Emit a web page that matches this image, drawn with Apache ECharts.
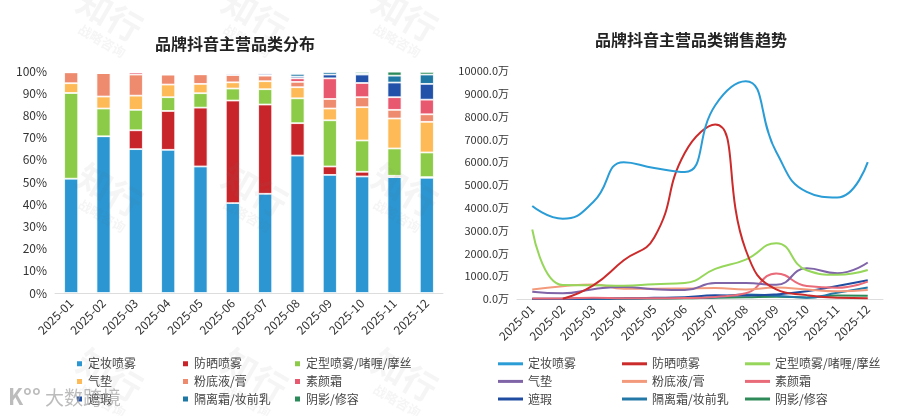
<!DOCTYPE html>
<html><head><meta charset="utf-8">
<script src="https://cdn.jsdelivr.net/npm/echarts@6/dist/echarts.min.js"></script>
<style>html,body{margin:0;padding:0;background:#fff;}#wrap{position:relative;width:900px;height:416px;}#c1{position:absolute;left:0;top:0;width:450px;height:416px;}#c2{position:absolute;left:450px;top:0;width:450px;height:416px;}</style>
</head><body><div id="wrap"><div id="c1"></div><div id="c2"></div></div>
<script>
const months = ['2025-01','2025-02','2025-03','2025-04','2025-05','2025-06','2025-07','2025-08','2025-09','2025-10','2025-11','2025-12'];
const names = ['定妆喷雾','防晒喷雾','定型喷雾/啫喱/摩丝','气垫','粉底液/膏','素颜霜','遮瑕','隔离霜/妆前乳','阴影/修容'];
const shareTicks = ['0%','10%','20%','30%','40%','50%','60%','70%','80%','90%','100%'];
// share of each category (%)
const share_dingzhuang = [51.5, 70.6, 64.8, 64.5, 57.0, 40.5, 44.7, 61.9, 53.2, 52.5, 52.2, 51.9];
const share_fangshai   = [0, 0, 8.5, 17.5, 26.5, 46.2, 40.2, 14.6, 3.8, 2.1, 0.6, 0.3];
const share_dingxing   = [38.6, 12.5, 9.2, 6.2, 6.5, 5.4, 6.9, 11.2, 20.8, 14.1, 12.3, 11.1];
const share_qidian     = [4.4, 5.4, 6.4, 5.7, 4.2, 2.8, 3.6, 5.0, 5.3, 15.0, 13.5, 13.8];
const share_fendi      = [4.9, 10.6, 9.5, 4.5, 4.3, 3.3, 2.5, 2.4, 4.3, 4.5, 3.9, 3.4];
const share_suyan      = [0, 0, 1.0, 0, 0, 0.2, 0.3, 1.6, 9.3, 6.4, 5.7, 6.6];
const share_zhexia     = [0, 0, 0, 0, 0, 0.6, 0.9, 0.8, 1.7, 3.8, 6.6, 7.1];
const share_geli       = [0, 0, 0, 0, 0, 0, 0, 1.2, 1.2, 0.6, 3.1, 4.2];
const share_yinying    = [0, 0, 0, 0, 0, 0, 0, 0.4, 0, 0.7, 1.8, 1.2];
// sales (万)
const sales_dingzhuang = [4080, 3520, 4250, 6000, 5750, 5570, 8500, 9550, 6450, 4700, 4450, 6000];
const sales_fangshai   = [null, 10, 600, 1700, 2700, 6400, 7650, 2150, 420, 170, 55, 35];
const sales_dingxing   = [3050, 610, 600, 580, 650, 700, 1320, 1730, 2450, 1260, 1060, 1270];
const sales_qidian     = [320, 250, 430, 530, 430, 390, 700, 700, 620, 1350, 1130, 1600];
const sales_fendi      = [420, 560, 640, 450, 450, 460, 480, 420, 500, 420, 340, 400];
const sales_suyan      = [20, 20, 60, 30, 30, 40, 90, 250, 1120, 570, 490, 760];
const sales_zhexia     = [10, 10, 20, 30, 50, 80, 160, 150, 200, 340, 570, 820];
const sales_geli       = [5, 5, 10, 20, 30, 40, 80, 200, 140, 60, 270, 500];
const sales_yinying    = [5, 5, 10, 15, 20, 30, 60, 80, 100, 70, 155, 140];

const shareData = [share_dingzhuang, share_fangshai, share_dingxing, share_qidian, share_fendi, share_suyan, share_zhexia, share_geli, share_yinying];
const salesData = [sales_dingzhuang, sales_fangshai, sales_dingxing, sales_qidian, sales_fendi, sales_suyan, sales_zhexia, sales_geli, sales_yinying];
const barColors = ['#2B96D2','#C8252A','#8CCB48','#FDBA57','#EE8A6E','#E8586F','#2151A8','#1F77A4','#2B8A5A'];
const lineColors = ['#2A9CD6','#CC2B2B','#96D65A','#8064A8','#F39A7C','#E96A78','#1F4CA0','#2378A8','#2E8A58'];
const FONT = '"Noto Sans CJK SC", "Noto Sans", sans-serif';

function watermarks(xs){
  const g = [];
  const ys = [15, 190, 375];
  xs.forEach(x => ys.forEach(y => {
    g.push({type:'text', x:x, y:y, rotation:-Math.PI/6, silent:true, z:100,
      style:{text:'知行', fill:'rgba(120,120,120,0.07)', font:'bold 34px '+FONT, textAlign:'center', textVerticalAlign:'middle'}});
    g.push({type:'text', x:x-8, y:y+26, rotation:-Math.PI/6, silent:true, z:100,
      style:{text:'战略咨询', fill:'rgba(120,120,120,0.07)', font:'bold 13px '+FONT, textAlign:'center', textVerticalAlign:'middle'}});
  }));
  return g;
}
function colLegends(cols, lefts, icon, iw, ih){
  return cols.map((c,i)=>({
    orient:'vertical', left:lefts[i], top:352, data:c.map(k=>names[k]), icon:icon,
    itemWidth:iw, itemHeight:ih, itemGap:4, selectedMode:false,
    textStyle:{fontSize:12, color:'#444', fontFamily:FONT, lineHeight:13.6}
  }));
}
const cols = [[0,3,6],[1,4,7],[2,5,8]];

const c1 = echarts.init(document.getElementById('c1'));
const g1 = watermarks([110, 255, 405]);
g1.push({type:'text', left:8, top:386, silent:true, z:120, style:{text:'K°°', fill:'rgba(160,160,160,0.7)', font:'bold 22px '+FONT}});
g1.push({type:'text', left:45, top:388, silent:true, z:120, style:{text:'大数跨境', fill:'rgba(160,160,160,0.7)', font:'19px '+FONT}});
c1.setOption({
  animation:false,
  title:{text:'品牌抖音主营品类分布', left:150, top:31, textStyle:{fontSize:16, fontWeight:'bold', color:'#222', fontFamily:FONT}},
  grid:{left:55, right:7, top:71, bottom:123},
  legend: colLegends(cols, [70, 176, 288], 'rect', 7, 7),
  xAxis:{type:'category', data:months, axisTick:{show:false},
    axisLine:{lineStyle:{color:'#ddd'}},
    axisLabel:{rotate:45, fontSize:12, color:'#333', fontFamily:FONT, margin:8, interval:0}},
  yAxis:{type:'value', min:0, max:100, interval:10, splitLine:{show:false},
    axisLine:{show:false}, axisTick:{show:false},
    axisLabel:{fontSize:12, color:'#333', fontFamily:FONT, formatter:(v)=>shareTicks[Math.round(v/10)]}},
  series: names.map((n,i)=>({name:n, type:'bar', stack:'s', barWidth:14, data:shareData[i],
    itemStyle:{color:barColors[i], borderColor:'#fff', borderWidth:0.8}})),
  graphic: g1
});

const c2 = echarts.init(document.getElementById('c2'));
c2.setOption({
  animation:false,
  title:{text:'品牌抖音主营品类销售趋势', left:140, top:27, textStyle:{fontSize:16, fontWeight:'bold', color:'#222', fontFamily:FONT}},
  grid:{left:67, right:17, top:71, bottom:117},
  legend: colLegends(cols, [43, 167, 290], 'rect', 25, 3),
  xAxis:{type:'category', data:months, boundaryGap:true, axisTick:{show:false},
    axisLine:{lineStyle:{color:'#ddd'}},
    axisLabel:{rotate:45, fontSize:12, color:'#333', fontFamily:FONT, margin:8, interval:0}},
  yAxis:{type:'value', min:0, max:10000, interval:1000, splitLine:{show:false},
    axisLine:{show:false}, axisTick:{show:false},
    axisLabel:{fontSize:11, color:'#333', fontFamily:FONT, formatter:(v)=>v.toFixed(1)+'万'}},
  series: names.map((n,i)=>({name:n, type:'line', smooth:true, showSymbol:false, symbol:'none', data:salesData[i],
    lineStyle:{color:lineColors[i], width:2}, itemStyle:{color:lineColors[i]}, z:10-i})),
  graphic: watermarks([555, 700, 850])
});
</script></body></html>
